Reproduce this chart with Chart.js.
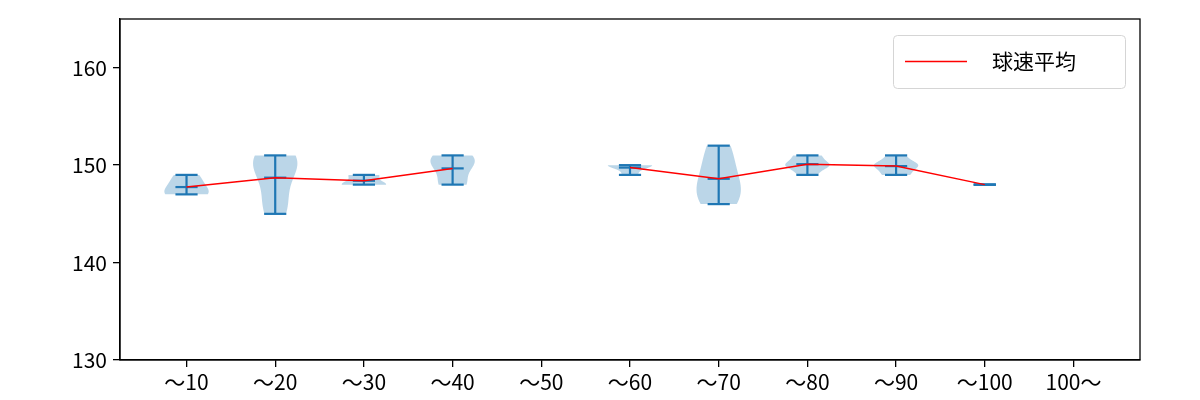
<!DOCTYPE html>
<html>
<head>
<meta charset="utf-8">
<script src="https://cdn.jsdelivr.net/npm/chart.js@4"></script>
<style>
  body { margin: 0; background: #fff; }
</style>
</head>
<body>
<canvas id="violin-chart" width="1200" height="400"></canvas>
<script>
// categories (pitch count range)
var categories = ['～10', '～20', '～30', '～40', '～50', '～60', '～70', '～80', '～90', '～100', '100～'];

// pitch speeds (km/h) per range
var speeds10 = [147, 147, 148, 149];
var speeds20 = [145, 146, 148, 150, 151, 151, 150];
var speeds30 = [148, 148, 148, 149, 149];
var speeds40 = [148, 148, 150, 150, 151, 151];
var speeds50 = [];
var speeds60 = [149, 150, 150, 150];
var speeds70 = [146, 147, 148, 150, 152];
var speeds80 = [149, 150, 150, 150, 151, 150, 151, 150, 149, 151];
var speeds90 = [149, 150, 150, 150, 151, 149, 150, 150, 149, 151];
var speeds100 = [148];
var speedsOver = [];

var yTicks = [130, 140, 150, 160];
var legendLabel = '球速平均';

var allSpeeds = [speeds10, speeds20, speeds30, speeds40, speeds50, speeds60,
                 speeds70, speeds80, speeds90, speeds100, speedsOver];

function mean(a) {
  if (!a.length) return null;
  return a.reduce(function (s, v) { return s + v; }, 0) / a.length;
}

var meanPoints = allSpeeds.map(function (a, i) {
  return { x: i + 1, y: mean(a) };
});

// gaussian kde, scott's rule (like matplotlib violinplot)
function violinShape(a) {
  var n = a.length;
  var lo = Math.min.apply(null, a), hi = Math.max.apply(null, a);
  if (n < 2 || lo === hi) return null;
  var m = mean(a);
  var v = a.reduce(function (s, x) { return s + (x - m) * (x - m); }, 0) / (n - 1);
  var f = Math.pow(n, -0.2);
  var bw2 = v * f * f;
  var pts = [];
  for (var k = 0; k < 100; k++) {
    var y = lo + (hi - lo) * k / 99;
    var d = 0;
    a.forEach(function (x) { d += Math.exp(-(y - x) * (y - x) / (2 * bw2)); });
    pts.push({ y: y, d: d });
  }
  var dmax = Math.max.apply(null, pts.map(function (p) { return p.d; }));
  pts.forEach(function (p) { p.w = 0.25 * p.d / dmax; });
  return pts;
}

var violinPlugin = {
  id: 'violins',
  beforeDatasetsDraw: function (chart) {
    var ctx = chart.ctx, xs = chart.scales.x, ys = chart.scales.y;
    var area = chart.chartArea;
    ctx.save();
    ctx.beginPath();
    ctx.rect(area.left, area.top, area.right - area.left, area.bottom - area.top);
    ctx.clip();
    allSpeeds.forEach(function (a, i) {
      if (!a.length) return;
      var pos = i + 1;
      var shape = violinShape(a);
      if (shape) {
        ctx.beginPath();
        shape.forEach(function (p, k) {
          var px = xs.getPixelForValue(pos - p.w), py = ys.getPixelForValue(p.y);
          if (k === 0) ctx.moveTo(px, py); else ctx.lineTo(px, py);
        });
        for (var k = shape.length - 1; k >= 0; k--) {
          ctx.lineTo(xs.getPixelForValue(pos + shape[k].w), ys.getPixelForValue(shape[k].y));
        }
        ctx.closePath();
        ctx.fillStyle = 'rgba(31,119,180,0.3)';
        ctx.fill();
      }
      var lo = Math.min.apply(null, a), hi = Math.max.apply(null, a), m = mean(a);
      ctx.strokeStyle = '#1f77b4';
      ctx.lineWidth = 2.2;
      var x0 = xs.getPixelForValue(pos - 0.125), x1 = xs.getPixelForValue(pos + 0.125);
      var xc = xs.getPixelForValue(pos);
      [lo, hi, m].forEach(function (v) {
        var py = ys.getPixelForValue(v);
        ctx.beginPath(); ctx.moveTo(x0, py); ctx.lineTo(x1, py); ctx.stroke();
      });
      ctx.beginPath();
      ctx.moveTo(xc, ys.getPixelForValue(lo));
      ctx.lineTo(xc, ys.getPixelForValue(hi));
      ctx.stroke();
    });
    ctx.restore();
  },
  afterDraw: function (chart) {
    var ctx = chart.ctx, area = chart.chartArea;
    ctx.save();
    // frame
    ctx.strokeStyle = '#000';
    ctx.lineWidth = 1.3;
    ctx.strokeRect(area.left, area.top, area.right - area.left, area.bottom - area.top);
    // legend box, upper right
    var w = 232, h = 53;
    var lx = area.right - 15 - w, ly = area.top + 16;
    ctx.beginPath();
    ctx.roundRect(lx + 0.5, ly + 0.5, w, h, 4);
    ctx.fillStyle = 'rgba(255,255,255,0.8)';
    ctx.fill();
    ctx.lineWidth = 1;
    ctx.strokeStyle = '#d5d5d5';
    ctx.stroke();
    ctx.beginPath();
    ctx.moveTo(lx + 12, ly + h / 2);
    ctx.lineTo(lx + 74, ly + h / 2);
    ctx.strokeStyle = 'red';
    ctx.lineWidth = 1.5;
    ctx.stroke();
    ctx.fillStyle = '#000';
    ctx.font = '21px "Noto Sans CJK JP"';
    ctx.textBaseline = 'middle';
    ctx.fillText(legendLabel, lx + 99, ly + h / 2);
    ctx.restore();
  }
};

new Chart(document.getElementById('violin-chart'), {
  type: 'line',
  data: {
    datasets: [{
      label: legendLabel,
      data: meanPoints,
      borderColor: 'red',
      borderWidth: 1.5,
      pointRadius: 0,
      fill: false,
      spanGaps: false,
      tension: 0
    }]
  },
  options: {
    responsive: false,
    animation: false,
    layout: { padding: { top: 19, right: 60, left: 0, bottom: 0 } },
    plugins: {
      legend: { display: false },
      tooltip: { enabled: false }
    },
    scales: {
      x: {
        type: 'linear',
        min: 0.25,
        max: 11.75,
        afterBuildTicks: function (scale) {
          scale.ticks = categories.map(function (c, i) { return { value: i + 1 }; });
        },
        afterFit: function (scale) { scale.height = 40; },
        ticks: {
          autoSkip: false,
          maxRotation: 0,
          color: '#000',
          padding: 2,
          font: { family: '"Noto Sans CJK JP"', size: 21 },
          callback: function (v) { return categories[v - 1]; }
        },
        grid: { drawOnChartArea: false, color: '#000', tickLength: 7, lineWidth: 1.3 },
        border: { color: '#000', width: 1.3 }
      },
      y: {
        min: 130,
        max: 165,
        afterBuildTicks: function (scale) {
          scale.ticks = yTicks.map(function (v) { return { value: v }; });
        },
        afterFit: function (scale) { scale.width = 120; },
        ticks: {
          color: '#000',
          padding: 6,
          font: { family: '"Noto Sans CJK JP"', size: 21 }
        },
        grid: { drawOnChartArea: false, color: '#000', tickLength: 7, lineWidth: 1.3 },
        border: { color: '#000', width: 1.3 }
      }
    }
  },
  plugins: [violinPlugin]
});
</script>
</body>
</html>
